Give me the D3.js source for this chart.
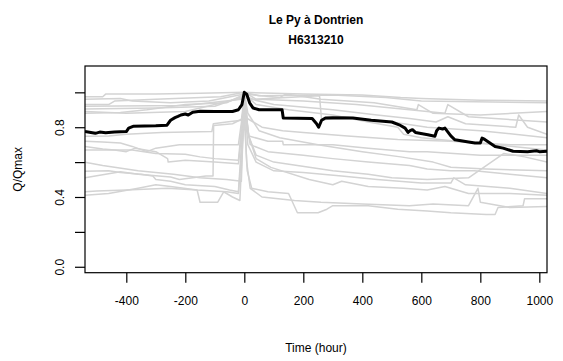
<!DOCTYPE html>
<html>
<head>
<meta charset="utf-8">
<script src="https://cdn.jsdelivr.net/npm/d3@7"></script>
<style>
  body { margin: 0; background: #fff; }
  text { font-family: "Liberation Sans", Arial, sans-serif; fill: #000; }
</style>
</head>
<body>
<svg id="chart"></svg>
<script>
// Chart text
const titleLines = ["Le Py à Dontrien", "H6313210"];
const xLabel = "Time (hour)";
const yLabel = "Q/Qmax";

// Axis ticks
const xTicks = [-400, -200, 0, 200, 400, 600, 800, 1000];
const yTicks = [0, 0.2, 0.4, 0.6, 0.8, 1.0];
const yTickLabels = ["0.0", "", "0.4", "", "0.8", ""];

// Highlighted event (black), [time, Q/Qmax]
const mainEvent = [
  [-540, 0.776], [-520, 0.77], [-505, 0.765], [-490, 0.772], [-470, 0.768], [-440, 0.772],
  [-400, 0.775], [-392, 0.795], [-377, 0.805], [-300, 0.808], [-262, 0.812], [-250, 0.84],
  [-235, 0.855], [-225, 0.862], [-215, 0.87], [-200, 0.876], [-190, 0.87], [-175, 0.886],
  [-150, 0.891], [-100, 0.89], [-40, 0.89], [-20, 0.9], [-8, 0.93], [0, 1.0], [8, 0.99],
  [18, 0.94], [30, 0.91], [50, 0.9], [128, 0.9], [132, 0.853], [230, 0.85], [245, 0.82],
  [252, 0.8], [262, 0.84], [275, 0.853], [300, 0.855], [368, 0.853], [430, 0.84], [500, 0.83],
  [525, 0.814], [545, 0.795], [555, 0.77], [562, 0.78], [570, 0.786], [580, 0.77], [622, 0.757],
  [646, 0.748], [652, 0.78], [660, 0.795], [672, 0.79], [680, 0.795], [700, 0.75], [714, 0.728],
  [760, 0.715], [782, 0.709], [800, 0.71], [806, 0.738], [815, 0.73], [850, 0.69], [877, 0.68],
  [900, 0.668], [911, 0.662], [960, 0.66], [990, 0.665], [1000, 0.66], [1026, 0.662]
];

// Other events (grey), [time, Q/Qmax]
const ev01 = [[-540, 0.975], [-480, 0.975], [-470, 0.99], [-300, 0.99], [-150, 0.995], [0, 1.0], [200, 0.99], [400, 0.985], [530, 0.97], [600, 0.965], [800, 0.955], [1026, 0.95]];
const ev02 = [[-540, 0.93], [-460, 0.93], [-440, 0.95], [-300, 0.96], [-80, 0.975], [0, 1.0], [50, 0.98], [300, 0.985], [480, 0.97], [600, 0.95], [1026, 0.94]];
const ev03 = [[-540, 0.92], [-200, 0.925], [-10, 0.96], [2, 1.0], [40, 0.96], [200, 0.95], [380, 0.93], [560, 0.9], [680, 0.88], [690, 0.93], [760, 0.86], [1026, 0.83]];
const ev04 = [[-540, 0.905], [-300, 0.91], [-100, 0.92], [0, 0.98], [30, 0.96], [255, 0.98], [262, 0.84], [330, 0.86], [500, 0.83], [620, 0.8], [800, 0.78], [1026, 0.74]];
const ev05 = [[-540, 0.89], [-400, 0.88], [-200, 0.89], [0, 0.97], [100, 0.93], [300, 0.9], [450, 0.87], [560, 0.85], [650, 0.83], [690, 0.86], [750, 0.82], [920, 0.8], [930, 0.87], [960, 0.8], [1026, 0.76]];
const ev06 = [[-540, 0.96], [-420, 0.965], [-380, 0.95], [-250, 0.94], [-120, 0.95], [0, 0.99], [120, 0.97], [140, 0.99], [260, 0.96], [440, 0.94], [585, 0.9], [590, 0.93], [640, 0.88], [800, 0.87], [1026, 0.89]];
const ev07 = [[-540, 0.748], [-460, 0.75], [-400, 0.76], [-280, 0.77], [-110, 0.775], [-105, 0.82], [-60, 0.83], [-10, 0.84], [0, 0.98], [10, 0.85], [60, 0.8], [130, 0.78], [200, 0.77], [350, 0.75], [520, 0.73], [700, 0.72], [900, 0.7], [1026, 0.7]];
const ev08 = [[-540, 0.72], [-480, 0.715], [-420, 0.71], [-380, 0.69], [-330, 0.66], [-300, 0.68], [-220, 0.7], [-150, 0.7], [-20, 0.7], [0, 0.95], [15, 0.75], [80, 0.72], [130, 0.72], [132, 0.7], [300, 0.7], [420, 0.68], [560, 0.66], [620, 0.66], [800, 0.64], [1026, 0.64]];
const ev09 = [[-540, 0.69], [-480, 0.675], [-440, 0.67], [-400, 0.66], [-370, 0.68], [-300, 0.66], [-260, 0.62], [-258, 0.6], [-200, 0.61], [-100, 0.6], [-20, 0.59], [0, 0.9], [20, 0.7], [80, 0.66], [200, 0.64], [300, 0.62], [420, 0.6], [560, 0.58], [620, 0.56], [700, 0.55], [780, 0.55], [900, 0.53], [1026, 0.51]];
const ev10 = [[-540, 0.67], [-450, 0.67], [-380, 0.67], [-300, 0.65], [-200, 0.645], [-150, 0.63], [-100, 0.62], [-20, 0.61], [0, 0.97], [15, 0.75], [40, 0.64], [100, 0.6], [180, 0.58], [300, 0.55], [420, 0.53], [500, 0.51], [620, 0.5], [760, 0.51], [880, 0.65], [950, 0.63], [1026, 0.6]];
const ev11 = [[-540, 0.547], [-460, 0.55], [-420, 0.54], [-350, 0.53], [-310, 0.52], [-300, 0.5], [-250, 0.49], [-200, 0.47], [-100, 0.46], [-50, 0.44], [-20, 0.43], [0, 0.95], [12, 0.7], [40, 0.6], [100, 0.55], [200, 0.54], [330, 0.52], [450, 0.5], [600, 0.48], [700, 0.48], [710, 0.51], [750, 0.47], [900, 0.45], [1026, 0.42]];
const ev12 = [[-540, 0.51], [-470, 0.53], [-420, 0.545], [-360, 0.53], [-250, 0.515], [-220, 0.5], [-130, 0.52], [-106, 0.52], [-104, 0.81], [-40, 0.82], [-5, 0.85], [0, 1.0], [12, 0.88], [50, 0.78], [120, 0.74], [250, 0.7], [400, 0.66], [530, 0.63], [640, 0.6], [700, 0.57], [820, 0.56], [1026, 0.55]];
const ev13 = [[-540, 0.43], [-500, 0.435], [-400, 0.44], [-260, 0.45], [-160, 0.44], [-150, 0.37], [-90, 0.37], [-70, 0.43], [-40, 0.4], [-15, 0.38], [0, 0.92], [8, 0.6], [20, 0.45], [60, 0.4], [170, 0.38], [260, 0.37], [400, 0.36], [560, 0.35], [640, 0.36], [760, 0.35], [792, 0.45], [800, 0.37], [900, 0.34], [1026, 0.345]];
const ev14 = [[-540, 0.41], [-460, 0.42], [-360, 0.45], [-300, 0.47], [-250, 0.46], [-160, 0.44], [-60, 0.43], [-20, 0.42], [0, 0.85], [10, 0.55], [25, 0.45], [80, 0.43], [150, 0.42], [180, 0.31], [250, 0.31], [280, 0.33], [300, 0.35], [420, 0.35], [520, 0.33], [620, 0.32], [700, 0.31], [820, 0.3], [850, 0.3], [860, 0.34], [945, 0.35], [950, 0.39], [1026, 0.39]];
const ev15 = [[-540, 0.88], [-420, 0.885], [-330, 0.9], [-200, 0.93], [-60, 0.94], [0, 0.99], [40, 0.93], [150, 0.9], [300, 0.87], [420, 0.83], [520, 0.8], [540, 0.76], [600, 0.74], [720, 0.72], [850, 0.7], [1026, 0.67]];
const ev16 = [[-540, 0.6], [-480, 0.58], [-440, 0.57], [-360, 0.55], [-300, 0.54], [-240, 0.53], [-150, 0.51], [-60, 0.5], [-10, 0.49], [0, 0.98], [15, 0.75], [40, 0.62], [90, 0.57], [220, 0.5], [300, 0.47], [330, 0.49], [420, 0.46], [540, 0.45], [620, 0.44], [680, 0.46], [760, 0.42], [900, 0.42], [1026, 0.41]];
const greyEvents = [ev01, ev02, ev03, ev04, ev05, ev06, ev07, ev08, ev09, ev10, ev11, ev12, ev13, ev14, ev15, ev16];

// Dimensions
const W = 563, H = 361;
const margin = { top: 66, right: 16, bottom: 88.3, left: 85 };
const width = W - margin.left - margin.right;
const height = H - margin.top - margin.bottom;

const svg = d3.select("#chart").attr("width", W).attr("height", H);
const g = svg.append("g").attr("transform", `translate(${margin.left},${margin.top})`);

// scales (R style padded range)
const x = d3.scaleLinear().domain([-540, 1026]).range([0, width]);
const y = d3.scaleLinear().domain([-0.034, 1.151]).range([height, 0]);

g.append("clipPath").attr("id", "plot-clip")
  .append("rect").attr("width", width).attr("height", height);

const line = d3.line().x(d => x(d[0])).y(d => y(d[1]));

// grey events
g.append("g").attr("clip-path", "url(#plot-clip)")
  .selectAll("path").data(greyEvents).enter()
  .append("path")
  .attr("d", line)
  .attr("fill", "none")
  .attr("stroke", "#d3d3d3")
  .attr("stroke-width", 1.5)
  .attr("stroke-linejoin", "round");

// highlighted event
g.append("path")
  .attr("clip-path", "url(#plot-clip)")
  .attr("d", line(mainEvent))
  .attr("fill", "none")
  .attr("stroke", "#000")
  .attr("stroke-width", 3)
  .attr("stroke-linejoin", "round");

// box
g.append("rect")
  .attr("width", width).attr("height", height)
  .attr("fill", "none").attr("stroke", "#000").attr("stroke-width", 1.2);

// x axis
const xAxis = g.append("g")
  .attr("transform", `translate(0,${height})`)
  .call(d3.axisBottom(x).tickValues(xTicks).tickSize(10).tickPadding(14).tickFormat(d => d));
xAxis.select(".domain").remove();
xAxis.selectAll("line").attr("stroke-width", 1.2);
xAxis.selectAll("text").style("font-size", "12px");

// y axis
const yAxis = g.append("g")
  .call(d3.axisLeft(y).tickValues(yTicks).tickSize(10).tickFormat((d, i) => yTickLabels[i]));
yAxis.select(".domain").remove();
yAxis.selectAll("line").attr("stroke-width", 1.2);
yAxis.selectAll("text")
  .style("font-size", "12px")
  .attr("text-anchor", "middle")
  .attr("x", 0)
  .attr("transform", "translate(-25,0) rotate(-90)")
  .attr("dy", "0.35em");

// titles
svg.selectAll(".title").data(titleLines).enter()
  .append("text")
  .attr("class", "title")
  .attr("x", margin.left + width / 2)
  .attr("y", (d, i) => 24 + i * 20)
  .attr("text-anchor", "middle")
  .style("font-size", "12px")
  .style("font-weight", "bold")
  .text(d => d);

// axis labels
svg.append("text")
  .attr("x", margin.left + width / 2)
  .attr("y", 352)
  .attr("text-anchor", "middle")
  .style("font-size", "12px")
  .text(xLabel);

svg.append("text")
  .attr("transform", `translate(22,${margin.top + height / 2}) rotate(-90)`)
  .attr("text-anchor", "middle")
  .style("font-size", "12px")
  .text(yLabel);
</script>
</body>
</html>
